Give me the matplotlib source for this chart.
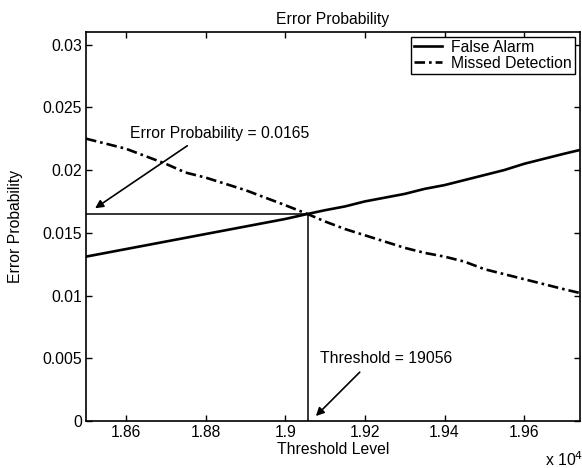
import matplotlib
matplotlib.use('Agg')
import matplotlib.pyplot as plt
from matplotlib.ticker import FuncFormatter

plt.rcParams['font.family'] = ['Liberation Sans', 'DejaVu Sans']

# valores
umbral = [18500, 18550, 18600, 18650, 18700, 18750, 18800, 18850, 18900, 18950,
          19000, 19056, 19100, 19150, 19200, 19250, 19300, 19350, 19400, 19450,
          19500, 19550, 19600, 19650, 19700, 19740]
falsaAlarma = [0.0131, 0.0134, 0.0137, 0.0140, 0.0143, 0.0146, 0.0149, 0.0152, 0.0155, 0.0158,
               0.0161, 0.0165, 0.0168, 0.0171, 0.0175, 0.0178, 0.0181, 0.0185, 0.0188, 0.0192,
               0.0196, 0.0200, 0.0205, 0.0209, 0.0213, 0.0216]
detPerdida = [0.0225, 0.0221, 0.0217, 0.0211, 0.0205, 0.0198, 0.0194, 0.0189, 0.0184, 0.0178,
              0.0172, 0.0165, 0.0159, 0.0153, 0.0148, 0.0143, 0.0138, 0.0134, 0.0131, 0.0127,
              0.0121, 0.0117, 0.0113, 0.0109, 0.0105, 0.0102]
umbralOpt = 19056
errorOpt = 0.0165
xTicks = [18600, 18800, 19000, 19200, 19400, 19600]
yTicks = [0, 0.005, 0.01, 0.015, 0.02, 0.025, 0.03]

fs = 11.3
fig = plt.figure(figsize=(5.82, 4.68), dpi=100)
ax = fig.add_axes([0.1478, 0.1004, 0.8488, 0.8312])

ax.plot(umbral, falsaAlarma, color='k', lw=1.9, label='False Alarm')
ax.plot(umbral, detPerdida, color='k', lw=1.9, dashes=(4, 1.5, 1, 1.5), label='Missed Detection')

# lineas del punto de cruce
ax.plot([umbral[0], umbralOpt], [errorOpt, errorOpt], color='k', lw=1.1)
ax.plot([umbralOpt, umbralOpt], [errorOpt, 0], color='k', lw=1.1)

ax.set_xlim(18500, 19740)
ax.set_ylim(0, 0.031)
ax.set_xticks(xTicks)
ax.set_yticks(yTicks)
ax.xaxis.set_major_formatter(FuncFormatter(lambda v, p: '%g' % (v / 1e4)))
ax.yaxis.set_major_formatter(FuncFormatter(lambda v, p: '%g' % v))
ax.tick_params(direction='in', top=True, right=True, length=4, labelsize=fs, width=1, pad=3)
for s in ax.spines.values():
    s.set_linewidth(1.2)

ax.set_title('Error Probability', fontsize=fs, pad=6)
ax.set_xlabel('Threshold Level', fontsize=fs, labelpad=1)
ax.set_ylabel('Error Probability', fontsize=fs, labelpad=14)
fig.text(0.936, 0.004, 'x 10$^4$', fontsize=fs)

ax.text(18610, 0.0229, 'Error Probability = 0.0165', fontsize=fs, va='center')
ax.annotate('', xy=(18517, 0.01683), xytext=(18760, 0.02206),
            arrowprops=dict(arrowstyle='-|>', color='k', lw=1.2, mutation_scale=12))
ax.text(19087, 0.0050, 'Threshold = 19056', fontsize=fs, va='center')
ax.annotate('', xy=(19072, 0.00024), xytext=(19192, 0.00405),
            arrowprops=dict(arrowstyle='-|>', color='k', lw=1.2, mutation_scale=12))

leg = ax.legend(loc='upper right', fontsize=fs, fancybox=False, edgecolor='k',
                framealpha=1, handlelength=1.8, handletextpad=0.6, borderaxespad=0.3,
                borderpad=0.2, labelspacing=0.05)
leg.get_frame().set_linewidth(1.0)

plt.savefig('out.png', dpi=100)
